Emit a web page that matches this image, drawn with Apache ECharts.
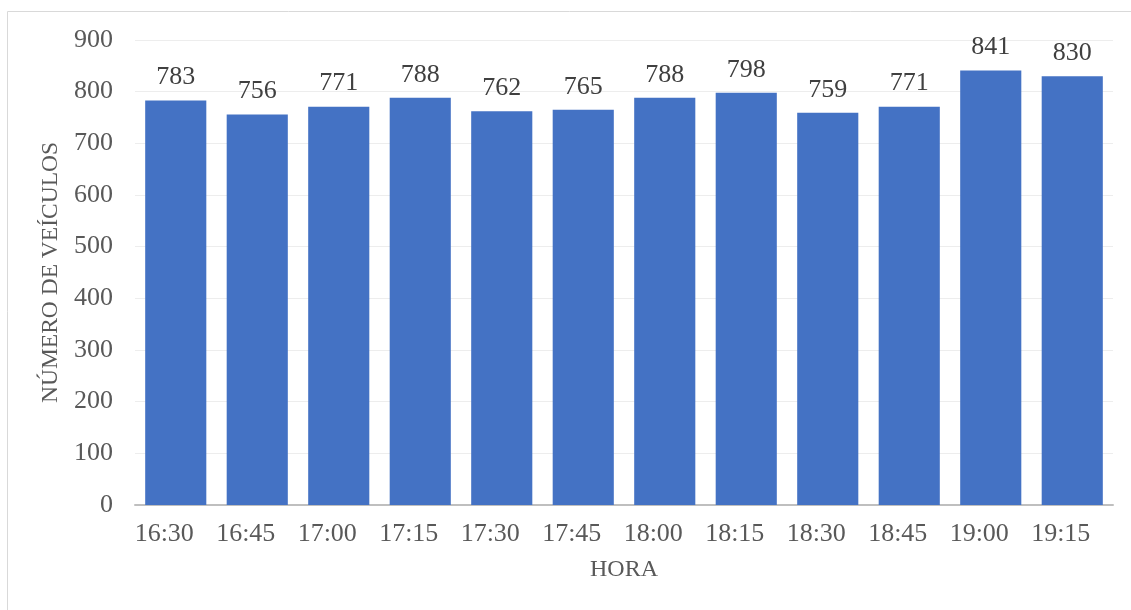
<!DOCTYPE html>
<html><head><meta charset="utf-8">
<script src="https://cdn.jsdelivr.net/npm/echarts@6/dist/echarts.min.js"></script>
<style>html,body{margin:0;padding:0;background:#fff}#c{width:1131px;height:610px}</style>
</head><body><div id="c"></div>
<script>
const categories = ['16:30','16:45','17:00','17:15','17:30','17:45','18:00','18:15','18:30','18:45','19:00','19:15'];
const vehicles = [783,756,771,788,762,765,788,798,759,771,841,830];
const yTicks = [0,100,200,300,400,500,600,700,800,900];
const FONT = '"Liberation Serif", "DejaVu Serif", serif';
const chart = echarts.init(document.getElementById('c'));
chart.setOption({
  animation: false,
  graphic: [{type:'rect', shape:{x:7.5,y:11.5,width:1140,height:620}, style:{fill:'none',stroke:'#d9d9d9',lineWidth:1}}],
  grid: {left:135, right:18, top:40, bottom:105},
  xAxis: {
    type:'category', data:categories,
    name:'HORA', nameLocation:'middle', nameGap:53,
    nameTextStyle:{fontFamily:FONT,fontSize:24,color:'#595959'},
    axisLine:{lineStyle:{color:'#bfbfbf',width:2}},
    axisTick:{show:false},
    axisLabel:{fontFamily:FONT,fontSize:26,color:'#595959',margin:16,padding:[0,23,0,0]}
  },
  yAxis: {
    type:'value', min:yTicks[0], max:yTicks[yTicks.length-1], interval:100,
    name:'NÚMERO DE VEÍCULOS', nameLocation:'middle', nameGap:70,
    nameTextStyle:{fontFamily:FONT,fontSize:23.5,color:'#595959'},
    axisLine:{show:false}, axisTick:{show:false},
    axisLabel:{fontFamily:FONT,fontSize:26,color:'#595959',margin:22},
    splitLine:{lineStyle:{color:'#ededed',width:1}}
  },
  series: [{
    type:'bar', data:vehicles, barCategoryGap:'25%',
    itemStyle:{color:'#4472C4'},
    label:{show:true,position:'top',distance:10,fontFamily:FONT,fontSize:26,color:'#404040'}
  }]
});
</script></body></html>
